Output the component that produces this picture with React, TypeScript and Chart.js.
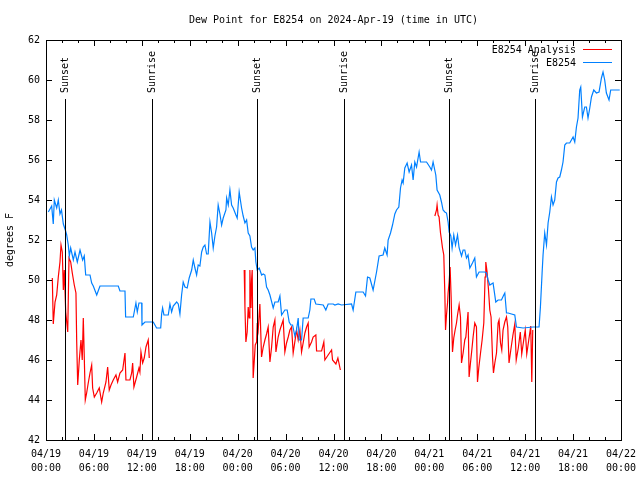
import React, { useEffect, useRef } from 'react';
import { Chart, registerables } from 'chart.js';

Chart.register(...registerables);

const TITLE = 'Dew Point for E8254 on 2024-Apr-19 (time in UTC)';
const Y_LABEL = 'degrees F';
const MONTH = '04';
const START_DAY = 19;
const X_MIN = 0;
const X_MAX = 72;
const X_STEP = 6;
const X_MINOR_STEP = 2;
const Y_MIN = 42;
const Y_MAX = 62;
const Y_STEP = 2;

const LEGEND_LABELS = ['E8254 Analysis', 'E8254'];
const SERIES_COLORS = ['#ff0000', '#0080ff'];

// hours since 04/19 00:00 UTC
const obsHours = [
  0.29, 0.71, 0.91, 1.04, 1.34, 1.54, 1.75, 1.94, 2.17, 2.42, 2.59, 2.79, 2.92, 3.09, 3.42, 3.63, 3.92, 4.26,
  4.59, 4.79, 4.97, 5.51, 5.72, 5.92, 6.35, 6.76, 9.05, 9.26, 9.89, 9.97, 10.93, 11.26, 11.43, 11.64, 11.98,
  12.02, 12.39, 13.43, 13.85, 14.36, 14.48, 14.6, 14.77, 15.31, 15.52, 15.73, 15.93, 16.36, 16.56, 16.77,
  16.98, 17.18, 17.4, 17.68, 17.93, 18.24, 18.44, 18.65, 18.86, 19.06, 19.27, 19.49, 19.69, 19.9, 20.11,
  20.31, 20.53, 20.74, 20.94, 21.15, 21.36, 21.56, 21.78, 21.99, 22.19, 22.53, 22.62, 22.82, 23.03, 23.24,
  23.44, 23.78, 23.94, 24.19, 24.49, 24.69, 24.91, 25.12, 25.32, 25.53, 25.74, 25.94, 26.16, 26.28, 26.45,
  26.7, 27.0, 27.2, 27.41, 27.62, 27.82, 28.04, 28.45, 28.66, 29.07, 29.29, 29.5, 29.91, 30.2, 30.45, 30.66,
  30.88, 31.16, 31.37, 31.58, 31.7, 32.0, 32.2, 32.83, 33.04, 33.17, 33.58, 33.79, 34.71, 35.04, 35.33,
  35.96, 36.17, 36.58, 37.01, 38.26, 38.46, 38.8, 39.71, 40.01, 40.26, 40.55, 40.96, 41.39, 41.71, 42.21,
  42.42, 42.71, 42.84, 43.14, 43.39, 43.68, 43.89, 44.18, 44.39, 44.59, 44.72, 44.93, 45.22, 45.47, 45.77,
  45.97, 46.18, 46.4, 46.72, 46.9, 47.65, 48.06, 48.27, 48.47, 48.81, 48.97, 49.31, 49.52, 49.72, 49.94,
  50.15, 50.35, 50.48, 50.69, 50.85, 51.06, 51.28, 51.53, 51.73, 52.03, 52.23, 52.44, 52.65, 52.85, 53.07,
  53.4, 53.69, 53.9, 54.23, 54.94, 55.15, 55.36, 55.57, 55.98, 56.32, 56.61, 57.03, 57.32, 57.45, 57.66,
  57.86, 58.7, 58.91, 59.74, 60.99, 61.74, 61.91, 62.12, 62.24, 62.45, 62.67, 62.87, 63.08, 63.29, 63.49,
  63.7, 63.92, 64.12, 64.33, 64.54, 64.74, 64.96, 65.17, 65.58, 66.0, 66.21, 66.42, 66.62, 66.83, 66.96,
  67.17, 67.46, 67.67, 67.87, 68.09, 68.3, 68.59, 68.92, 69.25, 69.55, 69.75, 69.96, 70.17, 70.5, 70.71,
  71.84,
];
const obsValues = [
  53.4, 53.7, 52.8, 54.0, 53.6, 54.0, 53.3, 53.5, 52.8, 52.5, 52.25, 51.75, 51.2, 51.6, 51.0, 51.4, 50.9, 51.5,
  51.0, 51.2, 50.25, 50.25, 49.85, 49.7, 49.25, 49.7, 49.7, 49.45, 49.45, 48.15, 48.15, 48.85, 48.4, 48.85, 48.85,
  47.75, 47.9, 47.9, 47.6, 47.6, 48.3, 48.6, 48.25, 48.25, 48.8, 48.4, 48.7, 48.9, 48.8, 48.3,
  49.25, 49.9, 49.65, 49.6, 50.1, 50.5, 51.0, 50.6, 50.25, 50.75, 50.7, 51.4, 51.65, 51.75, 51.3,
  51.3, 52.9, 52.35, 51.6, 52.2, 52.65, 53.75, 53.3, 52.75, 53.1, 53.5, 54.1, 53.75, 54.5, 53.75,
  53.6, 53.25, 53.1, 54.4, 53.6, 53.2, 52.85, 53.0, 52.35, 52.2, 51.65, 51.5, 51.6, 50.9, 50.5,
  50.6, 50.25, 50.3, 50.25, 49.65, 49.5, 49.25, 48.6, 48.9, 48.9, 49.2, 48.25, 48.5, 48.5, 47.9, 47.75,
  47.75, 47.2, 47.5, 48.1, 47.0, 47.0, 48.1, 48.1, 48.5, 49.05, 49.05, 48.8, 48.75, 48.5, 48.8,
  48.8, 48.75, 48.8, 48.75, 48.8, 48.5, 49.4, 49.4, 49.2, 50.15, 50.1, 49.5, 50.4, 51.2, 51.25,
  51.6, 51.25, 52.0, 52.35, 52.75, 53.3, 53.5, 53.65, 54.6, 55.0, 54.85, 55.6, 55.85, 55.4, 55.75,
  55.0, 55.9, 55.65, 56.4, 55.9, 55.9, 55.65, 55.5, 55.9, 55.25, 54.5, 54.25, 53.9, 53.5, 53.4,
  53.35, 52.9, 52.4, 52.2, 51.6, 52.25, 51.75, 52.25, 51.6, 51.2, 51.5, 51.5, 51.1, 51.25, 50.6,
  50.85, 51.1, 50.15, 50.4, 50.4, 50.35, 50.0, 49.75, 49.85, 48.9, 49.0, 49.0, 49.25, 49.35, 48.35,
  48.35, 48.25, 47.65, 47.6, 47.65, 47.65, 48.65, 50.35, 51.25, 52.35, 51.75, 52.85, 53.4, 54.15, 53.75,
  54.0, 54.9, 55.1, 55.15, 55.5, 55.9, 56.75, 56.85, 56.85, 57.15, 56.9, 57.65, 58.1, 59.5, 59.65,
  58.15, 58.65, 58.65, 58.1, 58.6, 59.15, 59.5, 59.35, 59.4, 60.1, 60.4, 60.0, 59.35, 59.0, 59.5,
  59.5,
];

// analysis series; null values mark gaps
const anaHours = [
  0.79, 0.91, 1.13, 1.34, 1.54, 1.75, 1.88, 2.04, 2.17, 2.29, 2.47, 2.72, 2.88, 3.09, 3.29, 3.54, 3.75, 3.84,
  3.97, 4.17, 4.38, 4.54, 4.67, 4.79, 4.92, 5.09, 5.29, 5.51, 5.72, 5.84, 6.05, 6.35, 6.67, 6.97, 7.17, 7.51,
  7.72, 7.92, 8.14, 8.42, 8.76, 8.97, 9.26, 9.6, 9.89, 10.01, 10.51, 10.73, 10.85, 11.01, 11.35, 11.64, 11.76,
  11.89, 12.1, 12.3, 12.52, 12.68, 12.8, 12.93,
  18,
  24.82, 24.91, 25.03, 25.19, 25.32, 25.44, 25.53, 25.66, 25.74, 25.82, 25.94, 26.07, 26.2, 26.37, 26.45,
  26.57, 26.78, 26.99, 27.2, 27.41, 27.62, 27.82, 28.04, 28.25, 28.45, 28.66, 28.79, 29.07, 29.29, 29.7,
  29.91, 30.12, 30.33, 30.54, 30.75, 30.95, 31.38, 31.58, 31.79, 32.0, 32.42, 32.63, 32.83, 32.95, 33.25,
  33.45, 33.79, 33.88, 34.51, 34.79, 34.92, 35.33, 35.76, 35.88, 36.3, 36.55, 36.86,
  42,
  48.69, 48.9, 48.97, 49.1, 49.22, 49.4, 49.52, 49.65, 49.81, 49.94, 50.03, 50.15, 50.28, 50.35, 50.48, 50.6,
  50.73, 50.9, 51.06, 51.23, 51.4, 51.53, 51.73, 51.9, 52.03, 52.23, 52.44, 52.57, 52.73, 52.85, 52.98, 53.15,
  53.32, 53.48, 53.69, 53.9, 54.03, 54.19, 54.41, 54.61, 54.82, 54.98, 55.07, 55.23, 55.41, 55.57, 55.73,
  55.91, 56.03, 56.2, 56.41, 56.61, 56.73, 56.91, 57.07, 57.23, 57.45, 57.66, 57.82, 57.98, 58.2, 58.45,
  58.7, 58.88, 59.14, 59.39, 59.57, 59.82, 60.01, 60.2, 60.45, 60.7, 60.83, 60.95,
];
const anaValues = [
  50.1, 47.8, 48.9, 49.25, 50.15, 50.9, 51.75, 51.4, 49.5, 50.5, 48.4, 47.4, 51.1, 50.9, 50.35, 49.75, 49.35, 47.0,
  44.75, 46.0, 47.0, 46.0, 48.1, 46.2, 44.0, 44.35, 44.85, 45.35, 45.75, 44.6, 44.15, 44.35, 44.6, 43.9, 44.35, 44.9,
  45.65, 44.5, 44.75, 45.0, 45.25, 44.9, 45.35, 45.5, 46.35, 45.0, 45.0, 45.35, 45.85, 44.65, 45.15, 45.6, 45.4,
  46.4, 45.85, 46.1, 46.65, 46.85, 47.0, 46.1,
  null,
  50.5, 48.65, 46.9, 47.4, 48.65, 48.1, 50.5, 48.6, 50.0, 50.5, 45.1, 45.9, 46.75, 46.9, 47.85,
  47.5, 48.8, 46.15, 46.65, 47.0, 47.3, 47.65, 45.9, 46.65, 47.65, 48.0, 46.4, 47.15, 47.5, 48.0,
  46.4, 46.85, 47.15, 47.5, 47.65, 46.35, 47.5, 47.0, 47.5, 46.4, 47.35, 47.65, 47.85, 46.65, 46.9,
  47.15, 47.25, 46.45, 46.45, 46.9, 46.0, 46.25, 46.5, 46.0, 45.8, 46.1, 45.5,
  null,
  53.2, 53.5, 53.75, 53.25, 53.15, 52.35, 52.0, 51.6, 51.25, 49.35, 47.5, 48.25, 48.85, 49.35, 49.9, 50.65,
  49.15, 46.4, 47.1, 47.5, 47.85, 48.25, 48.75, 48.15, 45.85, 46.35, 47.0, 47.15, 47.85, 48.4, 45.15, 45.85,
  46.5, 47.15, 47.85, 47.65, 44.9, 45.6, 46.35, 47.0, 47.85, 50.15, 50.9, 50.4, 49.5, 48.5, 48.15,
  46.15, 45.35, 45.85, 46.35, 47.85, 48.0, 46.85, 46.5, 47.5, 47.9, 48.15, 47.65, 45.85, 46.5, 47.2,
  47.8, 46.0, 46.6, 47.4, 46.3, 47.0, 47.5, 46.3, 47.0, 47.7, 44.9, 47.5,
];

const sunEventHours = [2.4, 13.3, 26.45, 37.3, 50.5, 61.25];
const sunEventLabels = ['Sunset', 'Sunrise', 'Sunset', 'Sunrise', 'Sunset', 'Sunrise'];

const MONO = '"DejaVu Sans Mono", "Liberation Mono", monospace';
const pad2 = (n: number) => (n < 10 ? '0' + n : String(n));

const decorPlugin = {
  id: 'decor',
  afterDatasetsDraw(chart: any) {
    const { ctx, chartArea, scales } = chart;
    const { left, right, top, bottom } = chartArea;
    const xs = scales.x;
    const ys = scales.y;
    ctx.save();
    ctx.strokeStyle = '#000';
    ctx.fillStyle = '#000';
    ctx.lineWidth = 1;

    // sunrise / sunset markers
    ctx.font = `10px ${MONO}`;
    sunEventHours.forEach((h, i) => {
      const px = Math.round(xs.getPixelForValue(h)) + 0.5;
      ctx.beginPath();
      ctx.moveTo(px, top + 59);
      ctx.lineTo(px, bottom);
      ctx.stroke();
      ctx.save();
      ctx.translate(px, top + 53);
      ctx.rotate(-Math.PI / 2);
      ctx.textAlign = 'left';
      ctx.textBaseline = 'middle';
      ctx.fillText(sunEventLabels[i], 0, 0);
      ctx.restore();
    });

    // frame
    ctx.strokeRect(Math.round(left) + 0.5, Math.round(top) + 0.5, Math.round(right - left), Math.round(bottom - top));

    // ticks inward on all sides
    ctx.beginPath();
    for (let h = X_MIN; h <= X_MAX; h += X_MINOR_STEP) {
      const px = Math.round(xs.getPixelForValue(h)) + 0.5;
      const len = h % X_STEP === 0 ? 6 : 3;
      ctx.moveTo(px, bottom);
      ctx.lineTo(px, bottom - len);
      ctx.moveTo(px, top);
      ctx.lineTo(px, top + len);
    }
    for (let v = Y_MIN; v <= Y_MAX; v += Y_STEP) {
      const py = Math.round(ys.getPixelForValue(v)) + 0.5;
      ctx.moveTo(left, py);
      ctx.lineTo(left + 6, py);
      ctx.moveTo(right, py);
      ctx.lineTo(right - 6, py);
    }
    ctx.stroke();

    // legend
    ctx.font = `10px ${MONO}`;
    ctx.textAlign = 'right';
    ctx.textBaseline = 'middle';
    LEGEND_LABELS.forEach((lab, i) => {
      const yy = top + 10 + i * 13;
      ctx.fillStyle = '#000';
      ctx.fillText(lab, right - 45, yy);
      ctx.strokeStyle = SERIES_COLORS[i];
      ctx.beginPath();
      ctx.moveTo(right - 38, Math.round(yy) - 0.5);
      ctx.lineTo(right - 9, Math.round(yy) - 0.5);
      ctx.stroke();
    });

    // title
    ctx.fillStyle = '#000';
    ctx.textAlign = 'center';
    ctx.textBaseline = 'middle';
    ctx.fillText(TITLE, (left + right) / 2, 20);

    // y axis label
    ctx.save();
    ctx.translate(10, (top + bottom) / 2);
    ctx.rotate(-Math.PI / 2);
    ctx.textAlign = 'center';
    ctx.textBaseline = 'middle';
    ctx.fillText(Y_LABEL, 0, 0);
    ctx.restore();

    ctx.restore();
  },
};

export default function App() {
  const canvasRef = useRef<HTMLCanvasElement | null>(null);

  useEffect(() => {
    const canvas = canvasRef.current;
    if (!canvas) return;
    const obsData = obsHours.map((h, i) => ({ x: h, y: obsValues[i] }));
    const anaData = anaHours.map((h, i) => ({ x: h, y: anaValues[i] }));
    const chart = new Chart(canvas, {
      type: 'line',
      data: {
        datasets: [
          {
            label: LEGEND_LABELS[1],
            data: obsData as any,
            borderColor: SERIES_COLORS[1],
            backgroundColor: SERIES_COLORS[1],
            borderWidth: 1.2,
            pointRadius: 0,
            tension: 0,
            fill: false,
          },
          {
            label: LEGEND_LABELS[0],
            data: anaData as any,
            borderColor: SERIES_COLORS[0],
            backgroundColor: SERIES_COLORS[0],
            borderWidth: 1.2,
            pointRadius: 0,
            tension: 0,
            fill: false,
            spanGaps: false,
          },
        ],
      },
      options: {
        animation: false,
        responsive: false,
        maintainAspectRatio: false,
        devicePixelRatio: 1,
        layout: { padding: { top: 40, right: 19, left: 0, bottom: 0 } },
        plugins: {
          legend: { display: false },
          title: { display: false },
          tooltip: { enabled: false },
        },
        scales: {
          x: {
            type: 'linear',
            min: X_MIN,
            max: X_MAX,
            grid: { display: false, drawTicks: false, tickLength: 0 },
            border: { display: false },
            afterFit: (scale: any) => {
              scale.height = 40;
              scale.paddingLeft = 0;
              scale.paddingRight = 0;
            },
            ticks: {
              stepSize: X_STEP,
              autoSkip: false,
              maxRotation: 0,
              minRotation: 0,
              padding: 7,
              color: '#000',
              font: { family: MONO, size: 10, lineHeight: 1.4 },
              callback: (v: any) => {
                const h = Number(v);
                const d = START_DAY + Math.floor(h / 24);
                return [`${MONTH}/${pad2(d)}`, `${pad2(h % 24)}:00`];
              },
            },
          },
          y: {
            type: 'linear',
            min: Y_MIN,
            max: Y_MAX,
            grid: { display: false, drawTicks: false, tickLength: 0 },
            border: { display: false },
            afterFit: (scale: any) => {
              scale.width = 46;
              scale.paddingTop = 0;
              scale.paddingBottom = 0;
            },
            ticks: {
              stepSize: Y_STEP,
              padding: 6,
              color: '#000',
              font: { family: MONO, size: 10 },
            },
          },
        },
      },
      plugins: [decorPlugin],
    });
    return () => chart.destroy();
  }, []);

  return (
    <div style={{ position: 'fixed', left: 0, top: 0, width: 640, height: 480, background: '#fff' }}>
      <canvas ref={canvasRef} width={640} height={480} style={{ width: 640, height: 480, display: 'block' }} />
    </div>
  );
}
